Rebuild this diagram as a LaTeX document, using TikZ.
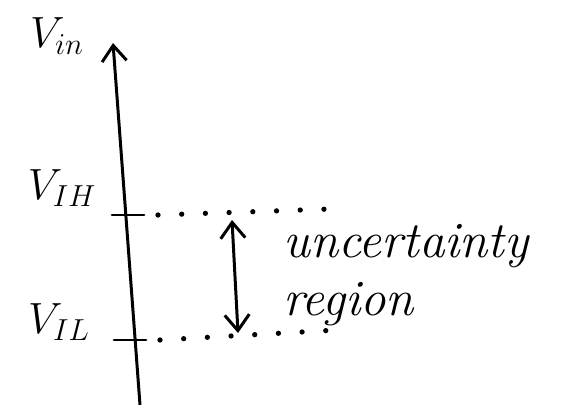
\documentclass[tikz,border=0pt]{standalone}
\usepackage{amsmath}
\usepackage{tikz}
\usetikzlibrary{arrows.meta}

\begin{document}
\begin{tikzpicture}[
    x=0.02cm, y=-0.02cm,
    pen/.style={line width=1.7pt, line cap=round},
    axisarrow/.style={pen, -{Straight Barb[length=9pt, width=14pt, line width=1.7pt]}},
    span/.style={pen, {Straight Barb[length=9pt, width=14pt, line width=1.7pt]}-{Straight Barb[length=9pt, width=14pt, line width=1.7pt]}},
    dots/.style={line width=3pt, line cap=round, dash pattern=on 0pt off 13.5pt},
    lbl/.style={font=\fontsize{26}{28}\selectfont\itshape, inner sep=0pt},
    note/.style={font=\fontsize{29}{33}\selectfont\itshape, align=left, inner sep=0pt}
]
\useasboundingbox (0,0) rectangle (561,405);

% Axis
\coordinate (axisbot) at (140,405);
\coordinate (axistop) at (113,43);
\draw[axisarrow] (axisbot) -- (axistop);
\node[lbl] (vin) at (57,36) {$V_{in}$};

% Levels
\coordinate (ihleft) at (112,215);
\coordinate (ihright) at (144,215);
\coordinate (ildots) at (337,330);
\coordinate (ihdots) at (330,209);
\coordinate (illeft) at (114,340);
\coordinate (ilright) at (146,340);
\draw[pen] (ihleft) -- (ihright);
\draw[pen] (illeft) -- (ilright);
\draw[dots] (ihright) ++(14,0) -- (ihdots);
\draw[dots] (ilright) ++(14,0) -- (ildots);
\node[lbl] (vih) at (62,188) {$V_{IH}$};
\node[lbl] (vil) at (59,322) {$V_{IL}$};

% Uncertainty
\coordinate (spantop) at (232,220);
\coordinate (spanbot) at (238,333);
\draw[span] (spanbot) -- (spantop);
\node[note, anchor=north west] (region) at (283,224) {uncertainty\\region};
\end{tikzpicture}
\end{document}
